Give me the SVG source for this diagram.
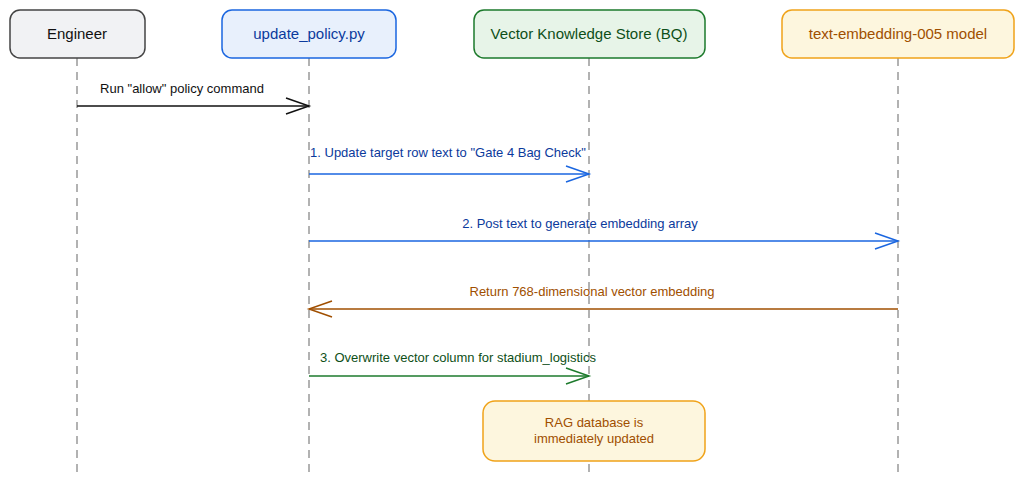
<svg xmlns="http://www.w3.org/2000/svg" width="1024" height="483" viewBox="0 0 1024 483">
<style>
text{font-family:"Liberation Sans",Arial,sans-serif;font-size:13px;text-anchor:middle}
.h{font-size:15px}
.life{stroke:#999;stroke-width:1.5;stroke-dasharray:8,6}
.m{fill:none;stroke-width:1.5}
</style>
<rect width="1024" height="483" fill="#fff"/>
<g id="lifelines">
<line class="life" x1="77" y1="58" x2="77" y2="475"/>
<line class="life" x1="309" y1="58" x2="309" y2="475"/>
<line class="life" x1="589" y1="58" x2="589" y2="475"/>
<line class="life" x1="898" y1="58" x2="898" y2="475"/>
</g>
<g id="engineer"><rect x="10" y="10" width="135" height="48" rx="10" fill="#f1f2f4" stroke="#444" stroke-width="1.5"/><text class="h" x="77" y="39" fill="#111">Engineer</text></g>
<g id="update"><rect x="222" y="10" width="174" height="48" rx="10" fill="#e8f0fc" stroke="#1a66e0" stroke-width="1.5"/><text class="h" x="309" y="39" fill="#0b3a9c">update_policy.py</text></g>
<g id="store"><rect x="474" y="10" width="231" height="48" rx="10" fill="#e7f4e8" stroke="#1d7a2c" stroke-width="1.5"/><text class="h" x="589" y="39" fill="#0e4f18">Vector Knowledge Store (BQ)</text></g>
<g id="model"><rect x="782" y="10" width="232" height="48" rx="10" fill="#fdf6de" stroke="#f0a31a" stroke-width="1.5"/><text class="h" x="898" y="39" fill="#a04f00">text-embedding-005 model</text></g>
<g id="note"><rect x="483" y="401" width="222" height="60" rx="12" fill="#fdf6de" stroke="#f0a31a" stroke-width="1.5"/><text x="594" y="427" fill="#a04f00">RAG database is</text><text x="594" y="443" fill="#a04f00">immediately updated</text></g>
<g id="connectors">
<text x="182" y="93" fill="#111">Run "allow" policy command</text>
<line class="m" x1="77" y1="106" x2="309" y2="106" stroke="#111"/><path class="m" d="M286,98 L309,106 L286,114" stroke="#111"/>
<text x="448" y="157" fill="#0b3a9c">1. Update target row text to "Gate 4 Bag Check"</text>
<line class="m" x1="309" y1="174" x2="589" y2="174" stroke="#1a66e0"/><path class="m" d="M566,166 L589,174 L566,182" stroke="#1a66e0"/>
<text x="580" y="228" fill="#0b3a9c">2. Post text to generate embedding array</text>
<line class="m" x1="309" y1="241" x2="898" y2="241" stroke="#1a66e0"/><path class="m" d="M875,233 L898,241 L875,249" stroke="#1a66e0"/>
<text x="592" y="296" fill="#a04f00">Return 768-dimensional vector embedding</text>
<line class="m" x1="309" y1="309" x2="898" y2="309" stroke="#a04f00"/><path class="m" d="M332,301 L309,309 L332,317" stroke="#a04f00"/>
<text x="458" y="362" fill="#0e4f18">3. Overwrite vector column for stadium_logistics</text>
<line class="m" x1="309" y1="376" x2="589" y2="376" stroke="#1d7a2c"/><path class="m" d="M566,368 L589,376 L566,384" stroke="#1d7a2c"/>
</g>
</svg>
